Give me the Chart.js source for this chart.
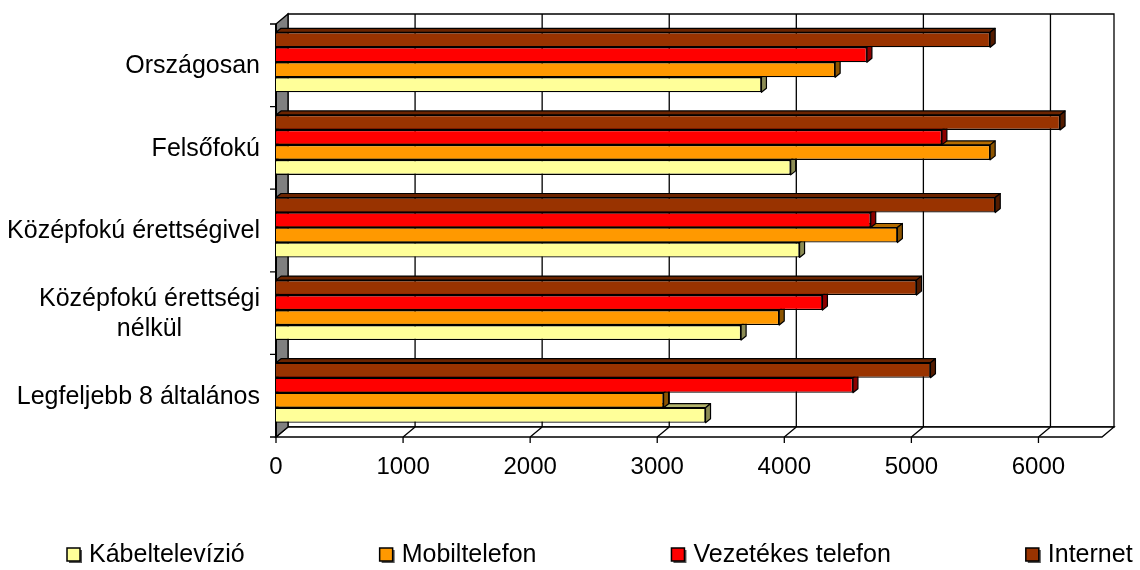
<!DOCTYPE html>
<html>
<head>
<meta charset="utf-8">
<script src="https://cdn.jsdelivr.net/npm/chart.js@4"></script>
<style>
  body { margin: 0; background: #fff; }
  canvas { display: block; }
</style>
</head>
<body>
<canvas id="chart" width="1140" height="570"></canvas>
<script>
const categories = ['Országosan', 'Felsőfokú', 'Középfokú érettségivel', ['Középfokú érettségi', 'nélkül'], 'Legfeljebb 8 általános'];
const internet = [5620, 6170, 5660, 5040, 5150];
const vezetekes = [4650, 5240, 4680, 4300, 4540];
const mobil = [4400, 5620, 4890, 3960, 3050];
const kabel = [3820, 4050, 4120, 3660, 3380];
const xTicks = [0, 1000, 2000, 3000, 4000, 5000, 6000];
const xMax = 6500;

const FONT = '"Liberation Sans", Arial, sans-serif';
const WALL_DX = 12, WALL_DY = 10;   // depth of walls/floor
const BAR_DX = 5, BAR_DY = 4;       // depth of bars
const SHIFT = 3;                    // walls sit a bit lower than the bars

function darker(hex, f) {
    const n = parseInt(hex.slice(1), 16);
    const r = Math.round(((n >> 16) & 255) * f);
    const g = Math.round(((n >> 8) & 255) * f);
    const b = Math.round((n & 255) * f);
    return `rgb(${r},${g},${b})`;
}

function poly(ctx, pts, fill) {
    ctx.beginPath();
    ctx.moveTo(pts[0][0], pts[0][1]);
    for (let i = 1; i < pts.length; i++) ctx.lineTo(pts[i][0], pts[i][1]);
    ctx.closePath();
    if (fill) { ctx.fillStyle = fill; ctx.fill(); }
    ctx.stroke();
}

const threeD = {
    id: 'threeD',
    beforeDatasetsDraw(chart) {
        const ctx = chart.ctx;
        const area = chart.chartArea;
        const xs = chart.scales.x;
        const top = area.top + SHIFT, bottom = area.bottom + SHIFT;
        const left = area.left, right = area.right;
        ctx.save();
        ctx.strokeStyle = '#000';
        ctx.lineWidth = 1.3;

        // back wall
        poly(ctx, [[left + WALL_DX, top - WALL_DY], [right + WALL_DX, top - WALL_DY],
                   [right + WALL_DX, bottom - WALL_DY], [left + WALL_DX, bottom - WALL_DY]], '#fff');
        // floor
        poly(ctx, [[left, bottom], [right, bottom], [right + WALL_DX, bottom - WALL_DY],
                   [left + WALL_DX, bottom - WALL_DY]], '#fff');
        // left wall
        poly(ctx, [[left, top], [left + WALL_DX, top - WALL_DY],
                   [left + WALL_DX, bottom - WALL_DY], [left, bottom]], '#808080');

        // grid on back wall, floor ticks, front ticks
        xTicks.forEach(v => {
            const fx = xs.getPixelForValue(v);
            ctx.beginPath();
            if (v > 0) {
                ctx.moveTo(fx + WALL_DX, top - WALL_DY);
                ctx.lineTo(fx + WALL_DX, bottom - WALL_DY);
                ctx.moveTo(fx, bottom);
                ctx.lineTo(fx + WALL_DX, bottom - WALL_DY);
            }
            ctx.moveTo(fx, bottom);
            ctx.lineTo(fx, bottom + 6);
            ctx.stroke();
        });

        // y axis line and ticks at band boundaries
        ctx.lineWidth = 2;
        ctx.beginPath();
        ctx.moveTo(left, top);
        ctx.lineTo(left, bottom);
        ctx.stroke();
        ctx.lineWidth = 1.3;
        const band = (bottom - top) / categories.length;
        ctx.beginPath();
        for (let i = 0; i <= categories.length; i++) {
            const y = top + i * band;
            ctx.moveTo(left - 6, y);
            ctx.lineTo(left, y);
        }
        ctx.stroke();
        ctx.restore();
    },
    beforeDatasetDraw(chart, args) {
        const ctx = chart.ctx;
        const ds = chart.data.datasets[args.index];
        ctx.save();
        ctx.strokeStyle = '#000';
        ctx.lineWidth = 1.2;
        ctx.lineJoin = 'round';
        args.meta.data.forEach(el => {
            const t = el.y - el.height / 2;
            const b = el.y + el.height / 2;
            poly(ctx, [[el.base, t], [el.base + BAR_DX, t - BAR_DY], [el.x + BAR_DX, t - BAR_DY], [el.x, t]],
                 darker(ds.backgroundColor, 0.7));
            poly(ctx, [[el.x, t], [el.x + BAR_DX, t - BAR_DY], [el.x + BAR_DX, b - BAR_DY], [el.x, b]],
                 darker(ds.backgroundColor, 0.55));
        });
        ctx.restore();
    },
    afterDraw(chart) {
        const ctx = chart.ctx;
        const area = chart.chartArea;
        const xs = chart.scales.x;
        const ys = chart.scales.y;
        ctx.save();
        ctx.fillStyle = '#000';
        ctx.textBaseline = 'middle';

        // x tick labels
        ctx.font = '24px ' + FONT;
        ctx.textAlign = 'center';
        xTicks.forEach(v => {
            ctx.fillText(String(v), xs.getPixelForValue(v), area.bottom + SHIFT + 30);
        });

        // category labels (multi-line ones centred on each other)
        ctx.font = '25px ' + FONT;
        const rightEdge = 260, lineH = 30.5;
        categories.forEach((lab, i) => {
            const lines = Array.isArray(lab) ? lab : [lab];
            const y0 = ys.getPixelForValue(i) + SHIFT + 1 - (lines.length - 1) * lineH / 2;
            const w = Math.max(...lines.map(l => ctx.measureText(l).width));
            ctx.textAlign = 'center';
            lines.forEach((l, j) => ctx.fillText(l, rightEdge - w / 2, y0 + j * lineH));
        });

        // legend, reversed dataset order
        ctx.font = '25px ' + FONT;
        ctx.textAlign = 'left';
        let x = 67;
        const ly = 555;
        chart.data.datasets.slice().reverse().forEach(ds => {
            ctx.fillStyle = '#555';
            ctx.fillRect(x + 2, ly - 5, 13, 13);
            ctx.fillStyle = ds.backgroundColor;
            ctx.strokeStyle = '#000';
            ctx.lineWidth = 1.5;
            ctx.fillRect(x, ly - 7, 13, 13);
            ctx.strokeRect(x, ly - 7, 13, 13);
            ctx.fillStyle = '#000';
            ctx.fillText(ds.label, x + 22, ly);
            x += 22 + ctx.measureText(ds.label).width + 135;
        });
        ctx.restore();
    }
};

new Chart(document.getElementById('chart'), {
    type: 'bar',
    data: {
        labels: categories,
        datasets: [
            { label: 'Internet', data: internet, backgroundColor: '#993300' },
            { label: 'Vezetékes telefon', data: vezetekes, backgroundColor: '#ff0000' },
            { label: 'Mobiltelefon', data: mobil, backgroundColor: '#ff9900' },
            { label: 'Kábeltelevízió', data: kabel, backgroundColor: '#ffff99' }
        ]
    },
    options: {
        indexAxis: 'y',
        responsive: false,
        animation: false,
        layout: { padding: { left: 276, right: 38, top: 21, bottom: 136 } },
        datasets: {
            bar: {
                borderColor: '#000',
                borderWidth: 1.3,
                categoryPercentage: 0.726,
                barPercentage: 1
            }
        },
        scales: {
            x: { type: 'linear', min: 0, max: xMax, display: false },
            y: { type: 'category', display: false, offset: true }
        },
        plugins: {
            legend: { display: false },
            tooltip: { enabled: false }
        }
    },
    plugins: [threeD]
});
</script>
</body>
</html>
